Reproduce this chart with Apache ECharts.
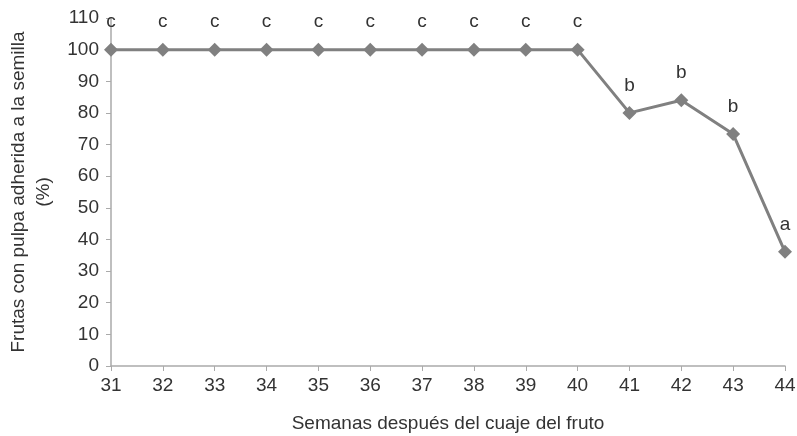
<!DOCTYPE html>
<html>
<head>
<meta charset="utf-8">
<script src="https://cdn.jsdelivr.net/npm/echarts@6/dist/echarts.min.js"></script>
<style>html,body{margin:0;padding:0;background:#fff;}#c{width:797px;height:436px;}</style>
</head>
<body>
<div id="c"></div>
<script>
var weeks = ['31','32','33','34','35','36','37','38','39','40','41','42','43','44'];
var values = [100,100,100,100,100,100,100,100,100,100,80,84,73.3,36.1];
var letters = ['c','c','c','c','c','c','c','c','c','c','b','b','b','a'];
var xTitle = 'Semanas después del cuaje del fruto';
var yTitle = 'Frutas con pulpa adherida a la semilla\n(%)';

var chart = echarts.init(document.getElementById('c'));
var font = 'Liberation Sans, Arial, sans-serif';
var fs = 19;
chart.setOption({
  animation: false,
  grid: {left: 111, right: 12, top: 18, bottom: 70, containLabel: false, outerBoundsMode: 'none'},
  xAxis: {
    type: 'category', data: weeks, boundaryGap: false,
    name: xTitle, nameLocation: 'middle', nameGap: 48,
    nameTextStyle: {fontFamily: font, fontSize: fs, color: '#333'},
    axisLine: {lineStyle: {color: '#aaa', width: 1.5}},
    axisTick: {alignWithLabel: true, length: 5, lineStyle: {color: '#aaa'}},
    axisLabel: {fontFamily: font, fontSize: fs, color: '#333', margin: 10}
  },
  yAxis: {
    type: 'value', min: 0, max: 110, interval: 10,
    name: yTitle, nameLocation: 'middle', nameGap: 54,
    nameTextStyle: {fontFamily: font, fontSize: fs, color: '#333', lineHeight: 25},
    axisLine: {show: true, lineStyle: {color: '#aaa', width: 1.5}},
    axisTick: {show: true, length: 5, lineStyle: {color: '#aaa'}},
    axisLabel: {fontFamily: font, fontSize: fs, color: '#333', margin: 12},
    splitLine: {show: false}
  },
  series: [{
    type: 'line',
    data: values.map(function (v, i) { return {value: v, label: {formatter: letters[i]}}; }),
    symbol: 'diamond', symbolSize: 14,
    lineStyle: {color: '#808080', width: 3},
    itemStyle: {color: '#808080'},
    label: {show: true, position: 'top', distance: 11, fontFamily: font, fontSize: fs, color: '#333'}
  }]
});
</script>
</body>
</html>
